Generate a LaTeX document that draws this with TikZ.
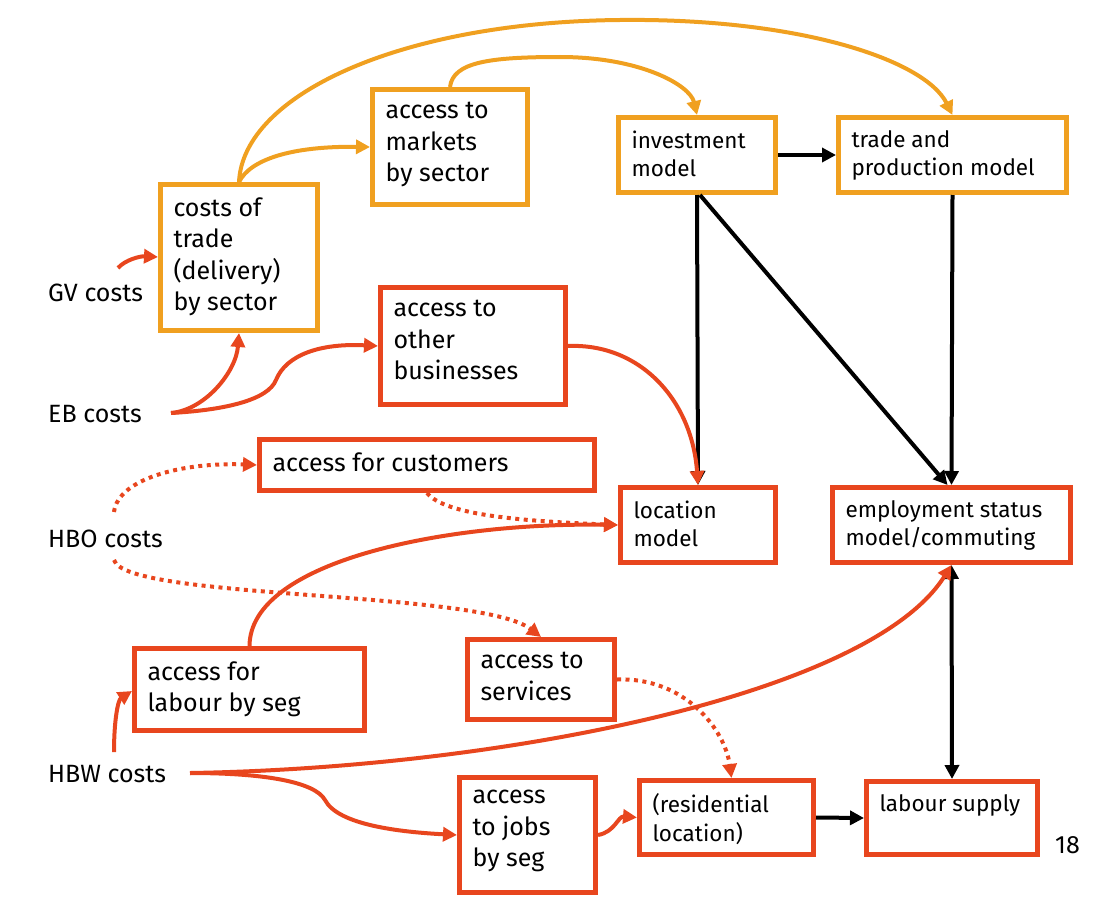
\documentclass[tikz,border=0pt]{standalone}
\usepackage{fontspec}
\setmainfont{Fira Sans}
\usetikzlibrary{arrows.meta,calc}
\definecolor{amber}{RGB}{240,160,32}
\definecolor{vermil}{RGB}{232,70,30}
\newcommand\acc{\fontsize{25}{31.5}\selectfont}
\newcommand\mdl{\fontsize{22.5}{28.5}\selectfont}
\newcommand\bxt[3]{\parbox[c][#2][t]{#1}{\raggedright #3}}
\tikzset{
  box/.style={draw, rectangle, line width=5pt, fill=white, anchor=north west,
              inner xsep=13pt, inner ysep=13pt},
  obox/.style={box, draw=amber},
  rbox/.style={box, draw=vermil},
  arr/.style={-{Triangle[length=14pt,width=14pt]}},
  darr/.style={{Triangle[length=14pt,width=14pt]}-{Triangle[length=14pt,width=14pt]}},
  oline/.style={amber, line width=4pt, arr},
  rline/.style={vermil, line width=4pt, arr},
  rdot/.style={vermil, line width=4pt, dash pattern=on 4pt off 4.5pt, arr},
  kline/.style={black, line width=4pt},
  lbl/.style={font=\acc, inner sep=0pt, anchor=base west}
}
\begin{document}
\begin{tikzpicture}[x=1pt,y=-1pt]
\useasboundingbox (0,0) rectangle (1110,899);

% model and accessibility boxes
\node[obox] (costs)   at (158,182) {\bxt{131pt}{120pt}{\acc costs of\\trade\\(delivery)\\by sector}};
\node[obox] (markets) at (370,87)  {\bxt{129pt}{89pt}{\acc access to\\markets\\by sector}};
\node[obox] (invest)  at (616,115) {\bxt{131pt}{49pt}{\mdl investment\\model}};
\node[obox] (trade)   at (836,115) {\bxt{202pt}{49pt}{\mdl trade and\\production model}};
\node[rbox] (other)   at (378,285) {\bxt{159pt}{91pt}{\acc access to\\other\\businesses}};
\node[rbox] (cust)    at (257,437) {\bxt{309pt}{25pt}{\acc access for customers}};
\node[rbox] (loc)     at (618,485) {\bxt{129pt}{49pt}{\mdl location\\model}};
\node[rbox] (emp)     at (830,485) {\bxt{212pt}{49pt}{\mdl employment status\\model/commuting}};
\node[rbox] (labseg)  at (132,646) {\bxt{204pt}{56pt}{\acc access for\\labour by seg}};
\node[rbox] (serv)    at (465,637) {\bxt{121pt}{54pt}{\acc access to\\services}};
\node[rbox] (jobs)    at (457,775) {\bxt{110pt}{89pt}{\acc access\\to jobs\\by seg}};
\node[rbox] (resid)   at (637,778) {\bxt{148pt}{48pt}{\mdl (residential\\location)}};
\node[rbox] (supply)  at (864,779) {\bxt{145pt}{47pt}{\mdl\mbox{labour supply}}};

% cost labels
\node[lbl] (gv)  at (48,301) {GV costs};
\node[lbl] (eb)  at (48,422) {EB costs};
\node[lbl] (hbo) at (48,547) {HBO costs};
\node[lbl] (hbw) at (48,782) {HBW costs};
\node[lbl] (pg)  at (1055,853) {18};

% free ends next to the cost labels
\coordinate (gv0)  at (118,268);
\coordinate (eb0)  at (171,413);
\coordinate (hbo1) at (114,512);
\coordinate (hbo2) at (114,560);
\coordinate (hbw1) at (114,752);
\coordinate (hbw0) at (190,773);

% black model links
\draw[kline, arr] (invest.east) -- (trade.west);
\draw[kline, arr] (invest.south) -- (loc.north);
\draw[kline, arr] ($(invest.south)+(3,0)$) -- ($(emp.north)+(-4,0)$);
\draw[kline, arr] (trade.south) -- (emp.north);
\draw[kline, arr] (resid.east) -- (supply.west);
\draw[kline, darr] (emp.south) -- (supply.north);

% goods vehicle / trade links
\draw[oline] (costs.north) .. controls (250,160) and (290,146) .. (markets.west);
\draw[oline] (costs.north) .. controls (243,95) and (400,22) .. (620,20)
             .. controls (800,18) and (925,60) .. (trade.north);
\draw[oline] (markets.north) .. controls (453,62) and (490,57) .. (560,57)
             .. controls (640,57) and (690,85) .. (invest.north);

% employer business links
\draw[rline] (gv0) .. controls (125,260) and (140,256) .. ($(costs.north west)+(0,75)$);
\draw[rline] (eb0) .. controls (205,410) and (236,372) .. (costs.south);
\draw[rline] (eb0) .. controls (225,410) and (268,400) .. (276,380)
             .. controls (286,355) and (320,343) .. (other.west);
\draw[rline] (other.east) .. controls (640,343) and (692,400) .. (loc.north);

% home-based other links
\draw[rdot] (hbo1) .. controls (118,478) and (185,462) .. (cust.west);
\draw[rdot] (cust.south) .. controls (445,515) and (520,521) .. (loc.west);
\draw[rdot] (hbo2) .. controls (125,600) and (480,590) .. (serv.north);
\draw[rdot] (serv.east) .. controls (685,677) and (725,730) .. ($(resid.north)+(5,0)$);

% home-based work links
\draw[rline] (labseg.north) .. controls (250,560) and (450,522) .. (loc.west);
\draw[rline] (hbw1) .. controls (114,720) and (118,700) .. ($(labseg.north west)+(0,45)$);
\draw[rline] (hbw0) .. controls (500,768) and (870,695) .. (emp.south);
\draw[rline] (hbw0) .. controls (265,773) and (315,782) .. (325,800)
             .. controls (338,825) and (400,832) .. (jobs.west);
\draw[rline] (jobs.east) .. controls (615,832) and (618,816) .. (resid.west);
\end{tikzpicture}
\end{document}
